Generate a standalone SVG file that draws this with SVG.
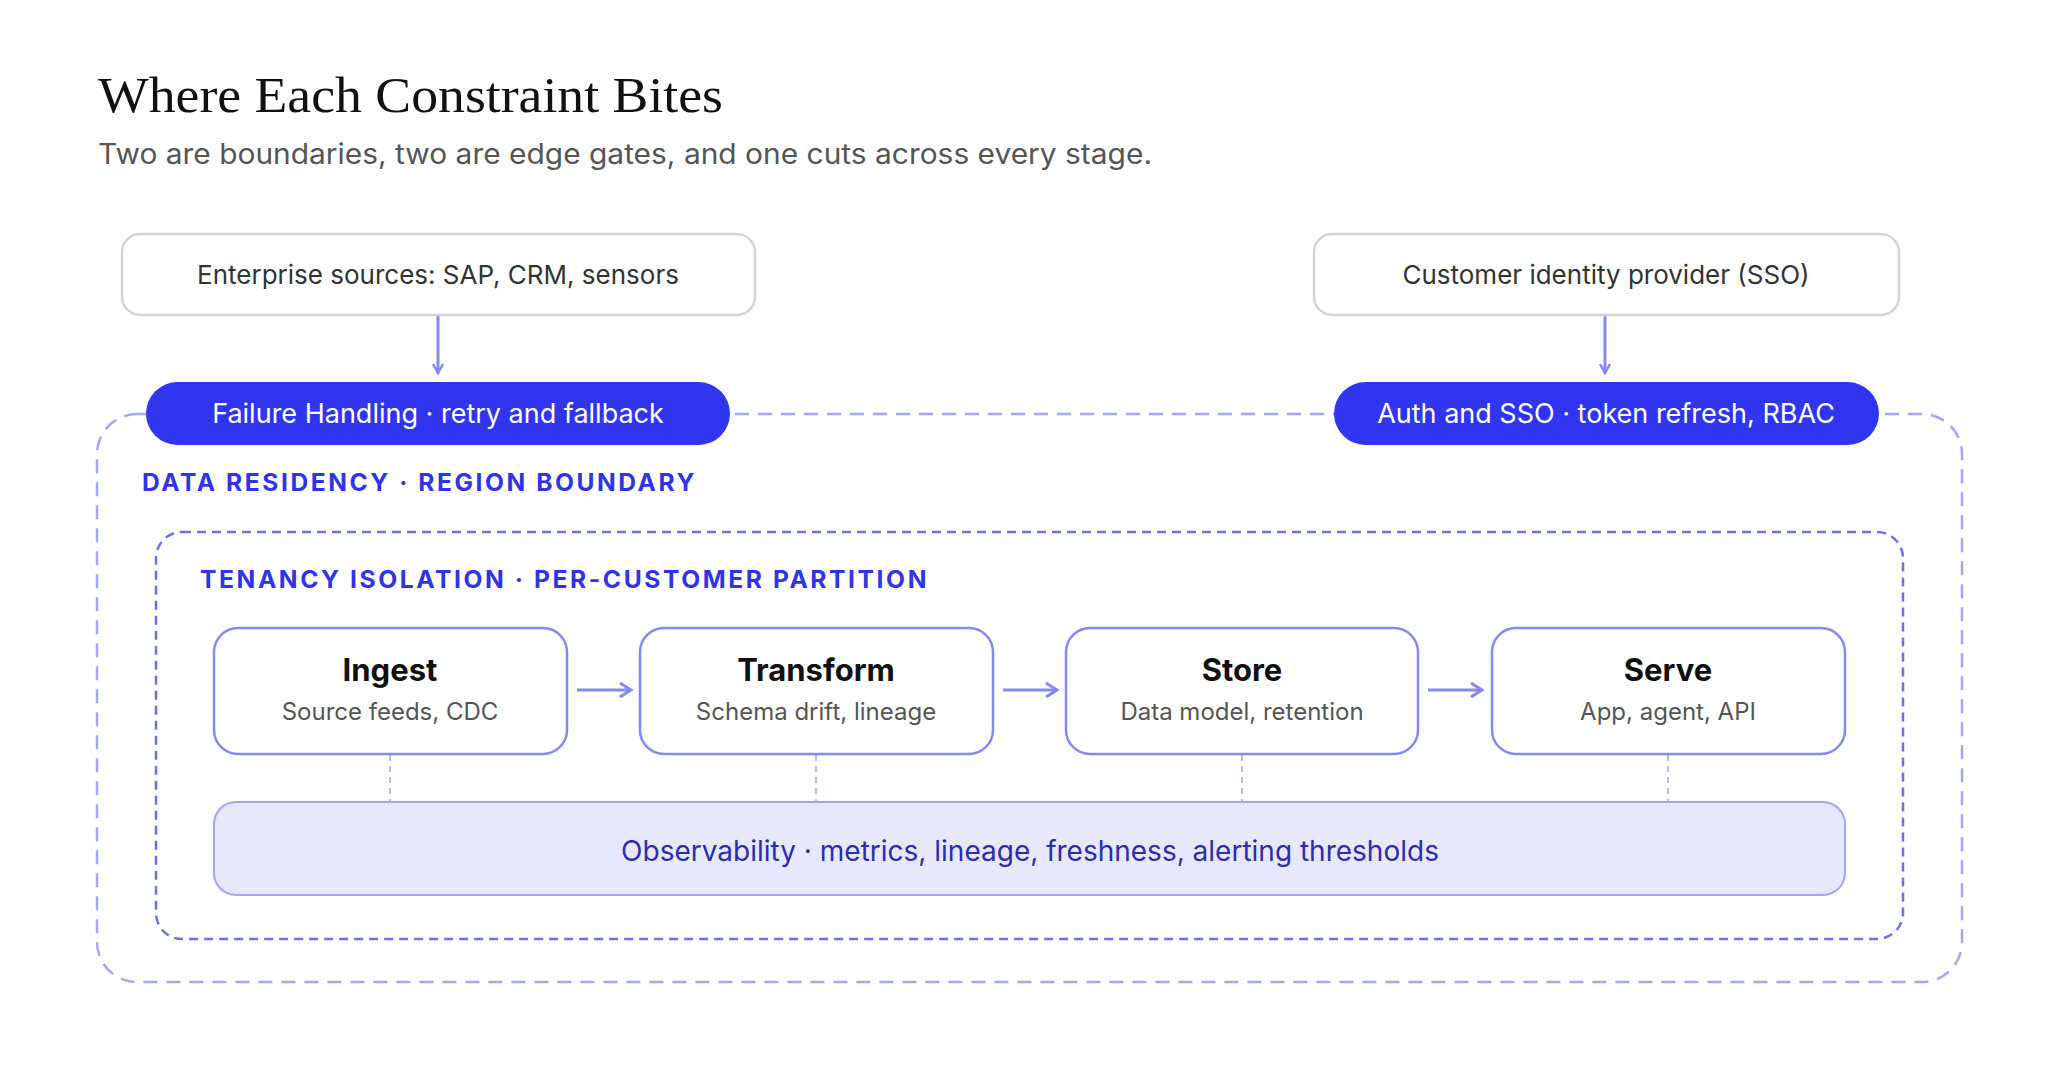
<svg xmlns="http://www.w3.org/2000/svg" width="2048" height="1075" viewBox="0 0 2048 1075">
<defs>
<style>
.sans{font-family:Inter,"Liberation Sans",sans-serif}
.src{fill:#fff;stroke:#d4d4d8;stroke-width:2.5}
.srct{font-size:26px;fill:#333;text-anchor:middle}
.pill{fill:#3035F0}
.pillt{font-size:27px;fill:#fff;text-anchor:middle}
.stage{fill:#fff;stroke:#8589F2;stroke-width:2.5}
.st{font-size:31px;font-weight:700;fill:#111;text-anchor:middle}
.ss{font-size:24px;fill:#555;text-anchor:middle}
.lbl{font-size:24px;font-weight:700;fill:#2F34E8;letter-spacing:2.5px}
.arr{stroke:#8589F2;stroke-width:3;fill:none}
</style>
<marker id="ah" viewBox="0 0 12 12" refX="10" refY="6" markerWidth="12" markerHeight="12" markerUnits="userSpaceOnUse" orient="auto"><path d="M1,1 L10,6 L1,11" fill="none" stroke="#8589F2" stroke-width="2.5"/></marker>
<marker id="ah2" viewBox="0 0 16 16" refX="13" refY="8" markerWidth="16" markerHeight="16" markerUnits="userSpaceOnUse" orient="auto"><path d="M2,1 L13,8 L2,15" fill="none" stroke="#8589F2" stroke-width="3"/></marker>
</defs>
<rect width="2048" height="1075" fill="#fff"/>
<text x="98" y="112" font-family="'Liberation Serif',serif" font-size="50" fill="#111" textLength="625" lengthAdjust="spacingAndGlyphs">Where Each Constraint Bites</text>
<text class="sans" x="98" y="164" font-size="28" fill="#555" textLength="1054" lengthAdjust="spacingAndGlyphs">Two are boundaries, two are edge gates, and one cuts across every stage.</text>

<g id="residency">
<rect x="97" y="414" width="1865" height="568" rx="40" fill="none" stroke="#A3A6F5" stroke-width="2.5" stroke-dasharray="14 9"/>
<text class="sans lbl" x="142" y="491" textLength="555" lengthAdjust="spacingAndGlyphs">DATA RESIDENCY · REGION BOUNDARY</text>
</g>
<g id="tenancy">
<rect x="156" y="532" width="1747" height="407" rx="26" fill="none" stroke="#6B70F0" stroke-width="2.5" stroke-dasharray="9 6"/>
<text class="sans lbl" x="200" y="588" textLength="729" lengthAdjust="spacingAndGlyphs">TENANCY ISOLATION · PER-CUSTOMER PARTITION</text>
</g>

<g id="connectors">
<line class="arr" x1="438" y1="315" x2="438" y2="373" stroke-width="2.5" marker-end="url(#ah)"/>
<line class="arr" x1="1605" y1="315" x2="1605" y2="373" stroke-width="2.5" marker-end="url(#ah)"/>
<line class="arr" x1="577" y1="690" x2="631" y2="690" marker-end="url(#ah2)"/>
<line class="arr" x1="1003" y1="690" x2="1057" y2="690" marker-end="url(#ah2)"/>
<line class="arr" x1="1428" y1="690" x2="1482" y2="690" marker-end="url(#ah2)"/>
<g stroke="#A3A6F5" stroke-width="1.5" stroke-dasharray="6 5">
<line x1="390" y1="755" x2="390" y2="802"/>
<line x1="816" y1="755" x2="816" y2="802"/>
<line x1="1242" y1="755" x2="1242" y2="802"/>
<line x1="1668" y1="755" x2="1668" y2="802"/>
</g>
</g>

<g id="enterprise"><rect class="src" x="122" y="234" width="633" height="81" rx="18"/><text class="sans srct" x="438" y="284">Enterprise sources: SAP, CRM, sensors</text></g>
<g id="idp"><rect class="src" x="1314" y="234" width="585" height="81" rx="18"/><text class="sans srct" x="1606" y="284">Customer identity provider (SSO)</text></g>

<g id="failure"><rect class="pill" x="146" y="382" width="584" height="63" rx="31.5"/><text class="sans pillt" x="438" y="423">Failure Handling · retry and fallback</text></g>
<g id="auth"><rect class="pill" x="1334" y="382" width="545" height="63" rx="31.5"/><text class="sans pillt" x="1606" y="423">Auth and SSO · token refresh, RBAC</text></g>

<g id="ingest"><rect class="stage" x="214" y="628" width="353" height="126" rx="24"/><text class="sans st" x="390" y="681">Ingest</text><text class="sans ss" x="390" y="720">Source feeds, CDC</text></g>
<g id="transform"><rect class="stage" x="640" y="628" width="353" height="126" rx="24"/><text class="sans st" x="816" y="681">Transform</text><text class="sans ss" x="816" y="720">Schema drift, lineage</text></g>
<g id="store"><rect class="stage" x="1066" y="628" width="352" height="126" rx="24"/><text class="sans st" x="1242" y="681">Store</text><text class="sans ss" x="1242" y="720">Data model, retention</text></g>
<g id="serve"><rect class="stage" x="1492" y="628" width="353" height="126" rx="24"/><text class="sans st" x="1668" y="681">Serve</text><text class="sans ss" x="1668" y="720">App, agent, API</text></g>

<g id="observability"><rect x="214" y="802" width="1631" height="93" rx="22" fill="#E8E8FC" stroke="#A3A6F5" stroke-width="2"/><text class="sans" x="1030" y="861" font-size="28" fill="#2A2DB0" text-anchor="middle">Observability · metrics, lineage, freshness, alerting thresholds</text></g>
</svg>
